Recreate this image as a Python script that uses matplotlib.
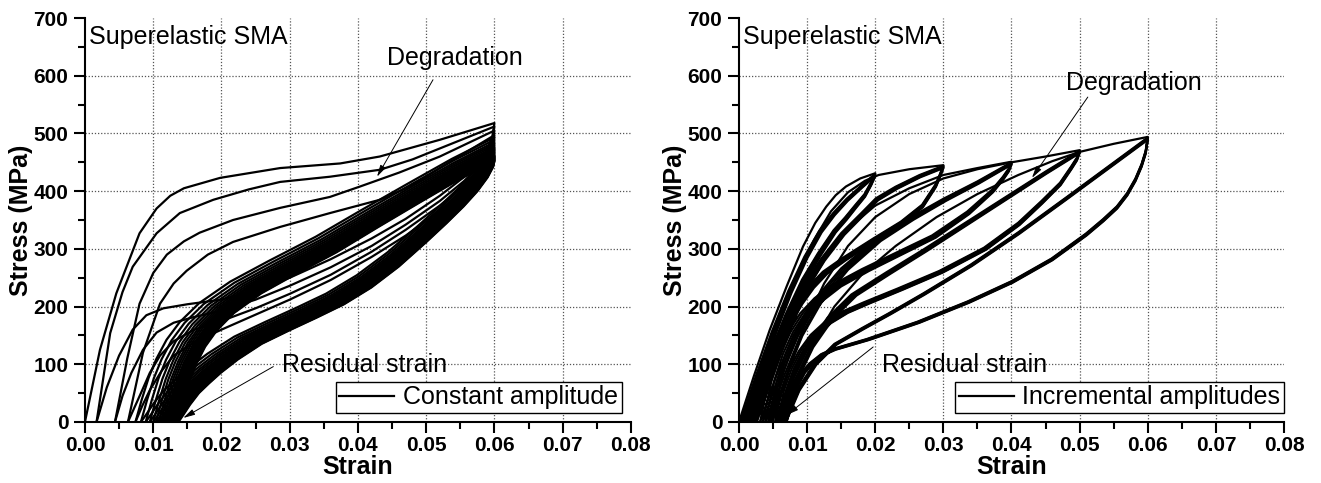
import matplotlib
matplotlib.use('Agg')
import matplotlib.pyplot as plt
from matplotlib.ticker import MultipleLocator, FormatStrFormatter
import numpy as np

plt.rcParams['font.family'] = ['Liberation Sans', 'DejaVu Sans']

# ---------------- left panel : constant amplitude 0.06 ----------------
# first four cycles read point by point (strain, stress MPa)
const_load_strain = [
    [0, 0.0022, 0.0046, 0.008, 0.0105, 0.0125, 0.0145, 0.0198, 0.0286, 0.0374, 0.0432, 0.052, 0.060],
    [0.0017, 0.0037, 0.0055, 0.007, 0.0105, 0.0139, 0.0188, 0.0240, 0.0286, 0.0359, 0.0432, 0.048, 0.052, 0.060],
    [0.0044, 0.0062, 0.008, 0.010, 0.012, 0.0145, 0.0168, 0.0217, 0.0286, 0.0359, 0.0403, 0.046, 0.052, 0.060],
    [0.0063, 0.0085, 0.011, 0.013, 0.0149, 0.018, 0.0217, 0.0286, 0.0359, 0.0432, 0.048, 0.052, 0.060],
]
const_load_stress = [
    [0, 125, 223, 327, 370, 392, 405, 423, 440, 448, 460, 489, 518],
    [0, 154, 225, 269, 327, 362, 385, 403, 416, 425, 437, 455, 474, 512],
    [0, 110, 205, 258, 290, 313, 328, 350, 371, 390, 408, 432, 460, 505],
    [0, 120, 205, 240, 262, 290, 312, 338, 362, 385, 410, 440, 497],
]
const_unload_strain = [
    [0.060, 0.0597, 0.0590, 0.0575, 0.0555, 0.052, 0.047, 0.042, 0.036, 0.030, 0.025, 0.020, 0.015, 0.0115, 0.009, 0.007, 0.005, 0.0032, 0.0017],
    [0.060, 0.0597, 0.0590, 0.0575, 0.0555, 0.052, 0.047, 0.042, 0.036, 0.030, 0.025, 0.020, 0.016, 0.013, 0.0105, 0.0085, 0.0068, 0.0055, 0.0044],
    [0.060, 0.0597, 0.0590, 0.0575, 0.0555, 0.052, 0.047, 0.042, 0.036, 0.030, 0.025, 0.020, 0.016, 0.013, 0.011, 0.0095, 0.0082, 0.0063],
    [0.060, 0.0597, 0.0590, 0.0575, 0.0555, 0.052, 0.047, 0.042, 0.036, 0.030, 0.025, 0.020, 0.016, 0.013, 0.0112, 0.0095, 0.0084, 0.0074],
]
const_unload_stress = [
    [518, 495, 472, 447, 424, 392, 352, 318, 282, 250, 228, 212, 204, 197, 185, 160, 115, 60, 0],
    [512, 489, 466, 440, 417, 383, 342, 305, 268, 236, 212, 193, 182, 172, 155, 125, 85, 45, 0],
    [505, 482, 459, 432, 409, 375, 333, 295, 255, 222, 197, 175, 160, 140, 115, 85, 50, 0],
    [497, 474, 451, 424, 400, 366, 323, 286, 246, 212, 186, 160, 138, 115, 88, 55, 28, 0],
]
# later (stabilising) cycles: shape of the last loop + residual strain / peak stress of each cycle
last_load_strain = [0.0138, 0.0146, 0.0155, 0.0165, 0.0178, 0.0195, 0.0220, 0.0260, 0.0310, 0.0370, 0.0430, 0.0490, 0.0545, 0.0600]
last_load_stress = [0, 35, 70, 100, 130, 158, 188, 222, 255, 293, 336, 378, 416, 450]
last_unload_strain = [0.060, 0.0598, 0.0590, 0.0575, 0.0555, 0.053, 0.050, 0.046, 0.042, 0.038, 0.034,
                      0.030, 0.026, 0.0225, 0.020, 0.0183, 0.0168, 0.0155, 0.0145, 0.0138]
last_unload_stress = [450, 440, 422, 398, 372, 343, 310, 268, 232, 203, 180, 158, 135, 108, 85, 67, 50, 30, 12, 0]
const_resid = [0.0074, 0.0082, 0.0089, 0.0095, 0.0100, 0.0104, 0.0108, 0.0111, 0.0114, 0.0117, 0.0119, 0.0121,
               0.0123, 0.0125, 0.0127, 0.0128, 0.0130, 0.0131, 0.0132, 0.0133, 0.0134, 0.0135, 0.0136, 0.0137]
const_peak = [493, 489, 485, 482, 479, 476, 474, 472, 470, 468, 466, 464,
              462, 461, 460, 459, 458, 457, 456, 455, 454, 453, 452]

# ---------------- right panel : incremental amplitudes ----------------
incr_amp = [0.02, 0.03, 0.04, 0.05, 0.06]
incr_resid = [
    [0.0000, 0.0002, 0.0004, 0.0006, 0.0008, 0.0010],
    [0.0012, 0.0015, 0.0018, 0.0020, 0.0022, 0.0024],
    [0.0026, 0.0031, 0.0035, 0.0039, 0.0043, 0.0046],
    [0.0049, 0.0053, 0.0056, 0.0059, 0.0061, 0.0063],
    [0.0064, 0.0065, 0.0066, 0.0067, 0.0068, 0.0069],
]
incr_final_resid = 0.0070
incr_peak = [
    [431, 430, 429, 428, 427, 426],
    [445, 444, 443, 442, 441, 440],
    [451, 450, 449, 448, 447, 446],
    [471, 470, 469, 468, 467, 466],
    [494, 493, 492, 491, 490, 489],
]
# first loading at each amplitude
first_load_strain = [
    [0, 0.0022, 0.0045, 0.007, 0.0094, 0.0112, 0.0128, 0.0142, 0.0157, 0.0178, 0.020],
    [0.0012, 0.0035, 0.006, 0.0085, 0.011, 0.0135, 0.016, 0.0185, 0.0205, 0.025, 0.030],
    [0.0026, 0.005, 0.0075, 0.010, 0.013, 0.016, 0.020, 0.025, 0.030, 0.035, 0.040],
    [0.0049, 0.007, 0.0095, 0.0125, 0.016, 0.020, 0.025, 0.030, 0.035, 0.040, 0.045, 0.050],
    [0.0064, 0.0085, 0.011, 0.014, 0.018, 0.023, 0.029, 0.035, 0.041, 0.046, 0.050, 0.055, 0.060],
]
first_load_stress = [
    [0, 80, 159, 235, 304, 345, 373, 393, 408, 422, 431],
    [0, 85, 175, 255, 315, 365, 398, 418, 428, 438, 445],
    [0, 80, 160, 230, 290, 335, 375, 405, 428, 440, 451],
    [0, 80, 165, 240, 305, 355, 395, 422, 438, 450, 460, 471],
    [0, 70, 140, 200, 255, 305, 355, 395, 428, 452, 468, 482, 494],
]
# repeated loadings at each amplitude
rep_load_strain = [
    [0.0002, 0.0025, 0.0048, 0.0072, 0.0096, 0.0118, 0.0138, 0.0158, 0.018, 0.020],
    [0.0015, 0.004, 0.0065, 0.009, 0.012, 0.015, 0.018, 0.0201, 0.023, 0.0265, 0.030],
    [0.0031, 0.0055, 0.008, 0.011, 0.015, 0.020, 0.025, 0.030, 0.035, 0.040],
    [0.0053, 0.0075, 0.010, 0.013, 0.0165, 0.0216, 0.027, 0.033, 0.039, 0.045, 0.050],
    [0.0065, 0.0085, 0.011, 0.014, 0.018, 0.022, 0.027, 0.034, 0.041, 0.048, 0.054, 0.060],
]
rep_load_stress = [
    [0, 80, 155, 225, 285, 330, 360, 385, 408, 428],
    [0, 85, 165, 225, 280, 325, 360, 385, 405, 425, 441],
    [0, 80, 150, 210, 265, 315, 352, 385, 415, 448],
    [0, 70, 130, 180, 220, 258, 297, 342, 387, 432, 468],
    [0, 55, 100, 135, 162, 188, 222, 272, 328, 388, 440, 492],
]
incr_unload_strain = [
    [0.020, 0.0194, 0.0185, 0.0172, 0.0158, 0.0142, 0.012, 0.0098, 0.0075, 0.0052, 0.003, 0.0012],
    [0.030, 0.0295, 0.0289, 0.027, 0.024, 0.0201, 0.0157, 0.0130, 0.0110, 0.0093, 0.0077, 0.0062, 0.0048, 0.0036, 0.0026],
    [0.040, 0.0396, 0.0388, 0.0373, 0.0338, 0.0289, 0.024, 0.0191, 0.0150, 0.0125, 0.0105, 0.0088, 0.0074, 0.0061, 0.0049],
    [0.050, 0.0496, 0.0488, 0.0472, 0.0445, 0.0412, 0.0363, 0.0299, 0.024, 0.0191, 0.0160, 0.0135, 0.0115, 0.0098,
     0.0085, 0.0074, 0.0064],
    [0.060, 0.0597, 0.0591, 0.0582, 0.0570, 0.0555, 0.0535, 0.051, 0.046, 0.0402, 0.0338, 0.0265,
     0.0191, 0.0142, 0.0125, 0.0108, 0.0097, 0.0088, 0.0079, 0.0070],
]
incr_unload_stress = [
    [428, 412, 392, 373, 352, 330, 290, 245, 185, 115, 50, 0],
    [441, 425, 408, 373, 344, 315, 281, 258, 233, 205, 172, 130, 82, 40, 0],
    [448, 436, 422, 400, 362, 321, 292, 263, 236, 213, 187, 155, 118, 70, 0],
    [468, 455, 440, 412, 380, 343, 300, 260, 230, 206, 190, 172, 150, 122, 92, 55, 0],
    [492, 468, 445, 420, 395, 372, 350, 325, 282, 243, 208, 173, 143, 126, 117, 101, 86, 66, 40, 0],
]


def fit_branch(xs, ys, zero_strain, amp, peak):
    # stretch a read branch so that it runs from zero_strain (stress 0) to (amp, peak)
    xs = np.asarray(xs, float)
    ys = np.asarray(ys, float)
    iz = int(np.argmin(ys))
    ip = int(np.argmax(ys))
    xs2 = zero_strain + (xs - xs[iz]) * (amp - zero_strain) / (xs[ip] - xs[iz])
    return xs2, ys * peak / ys[ip]


fig = plt.figure(figsize=(13.21, 4.83), dpi=100)
ax1 = fig.add_axes([0.0643, 0.1263, 0.4133, 0.8364])
ax2 = fig.add_axes([0.5594, 0.1263, 0.4126, 0.8364])

lw = 1.6
# left
for i in range(len(const_load_strain)):
    x = list(const_load_strain[i]) + list(const_unload_strain[i])
    y = list(const_load_stress[i]) + list(const_unload_stress[i])
    ax1.plot(x, y, color='black', lw=lw, label='Constant amplitude' if i == 0 else None)
for k in range(len(const_peak)):
    lx, ly = fit_branch(last_load_strain, last_load_stress, const_resid[k], 0.06, const_peak[k])
    ux, uy = fit_branch(last_unload_strain, last_unload_stress, const_resid[k + 1], 0.06, const_peak[k])
    ax1.plot(np.r_[lx, ux], np.r_[ly, uy], color='black', lw=lw)

# right
first = True
for g, amp in enumerate(incr_amp):
    n = len(incr_resid[g])
    for k in range(n):
        if k + 1 < n:
            nxt = incr_resid[g][k + 1]
        elif g + 1 < len(incr_amp):
            nxt = incr_resid[g + 1][0]
        else:
            nxt = incr_final_resid
        if k == 0:
            lx, ly = fit_branch(first_load_strain[g], first_load_stress[g], incr_resid[g][k], amp, incr_peak[g][k])
        else:
            lx, ly = fit_branch(rep_load_strain[g], rep_load_stress[g], incr_resid[g][k], amp, incr_peak[g][k])
        ux, uy = fit_branch(incr_unload_strain[g], incr_unload_stress[g], nxt, amp, incr_peak[g][k])
        ax2.plot(np.r_[lx, ux], np.r_[ly, uy], color='black', lw=lw,
                 label='Incremental amplitudes' if first else None)
        first = False

grid_x = [0.01, 0.02, 0.03, 0.04, 0.05, 0.06, 0.07]
grid_y = [100, 200, 300, 400, 500, 600]
arrow = dict(arrowstyle='-|>,head_length=0.7,head_width=0.18', color='black', lw=0.7, shrinkA=0, shrinkB=0)

for ax in (ax1, ax2):
    ax.set_xlim(0, 0.08)
    ax.set_ylim(0, 700)
    for gx in grid_x:
        ax.axvline(gx, color='#555555', lw=0.9, ls=(0, (1, 1.5)), zorder=0)
    for gy in grid_y:
        ax.axhline(gy, color='#555555', lw=0.9, ls=(0, (1, 1.5)), zorder=0)
    ax.xaxis.set_major_locator(MultipleLocator(0.01))
    ax.xaxis.set_minor_locator(MultipleLocator(0.005))
    ax.yaxis.set_major_locator(MultipleLocator(100))
    ax.yaxis.set_minor_locator(MultipleLocator(50))
    ax.xaxis.set_major_formatter(FormatStrFormatter('%.2f'))
    ax.spines['top'].set_visible(False)
    ax.spines['right'].set_visible(False)
    ax.spines['left'].set_linewidth(1.5)
    ax.spines['bottom'].set_linewidth(1.5)
    ax.tick_params(which='major', direction='out', length=8, width=1.5, labelsize=15, pad=2)
    ax.tick_params(which='minor', direction='out', length=5, width=1.5)
    ax.tick_params(axis='y', pad=4)
    plt.setp(ax.get_xticklabels() + ax.get_yticklabels(), fontweight='bold')
    ax.set_xlabel('Strain', fontsize=18, fontweight='bold', labelpad=0)
    ax.set_ylabel('Stress (MPa)', fontsize=18, fontweight='bold', labelpad=0)
    ax.text(0.0006, 667, 'Superelastic SMA', fontsize=18, va='center', ha='left')

ax1.text(0.0542, 631, 'Degradation', fontsize=18, ha='center', va='center')
ax1.annotate('', xy=(0.0428, 425), xytext=(0.051, 593), arrowprops=arrow)
ax1.text(0.0289, 99, 'Residual strain', fontsize=18, ha='left', va='center')
ax1.annotate('', xy=(0.0144, 7), xytext=(0.0276, 96), arrowprops=arrow)

ax2.text(0.0579, 587, 'Degradation', fontsize=18, ha='center', va='center')
ax2.annotate('', xy=(0.0430, 423), xytext=(0.0512, 563), arrowprops=arrow)
ax2.text(0.0210, 99, 'Residual strain', fontsize=18, ha='left', va='center')
ax2.annotate('', xy=(0.0070, 12), xytext=(0.0197, 130), arrowprops=arrow)

for ax, anchor in ((ax1, (0.9835, 0.022)), (ax2, (1.0, 0.022))):
    leg = ax.legend(loc='lower right', bbox_to_anchor=anchor, fontsize=18, fancybox=False,
                    edgecolor='black', framealpha=1, handlelength=2.2, handletextpad=0.35,
                    borderpad=0.15, borderaxespad=0)
    leg.get_frame().set_linewidth(1.0)

fig.savefig('out.png', dpi=100)
